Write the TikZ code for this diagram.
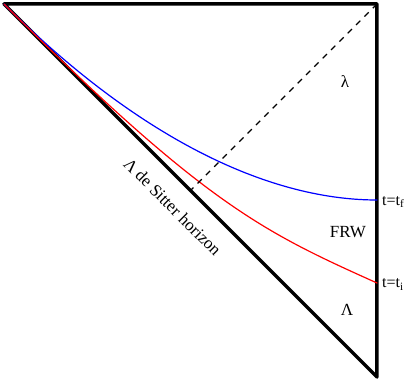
\documentclass[tikz,border=0pt]{standalone}
\usepackage{fontspec}
\setmainfont{Liberation Serif}
\tikzset{
  region/.style={font=\fontsize{17}{20}\selectfont,inner sep=0pt},
  slice/.style={font=\fontsize{16}{19}\selectfont,inner sep=0pt,anchor=base west,xshift=5pt,yshift=-5pt},
  bound/.style={line width=3.5pt},
  surface/.style={line width=1.2pt}
}
\begin{document}
\begin{tikzpicture}[x=37.3pt,y=37.3pt,line cap=round,line join=round]
\useasboundingbox (-0.107,-0.107) rectangle (10.724,10.107);
\coordinate (A) at (0,10);
\coordinate (B) at (10,10);
\coordinate (C) at (10,0);
\coordinate (M) at (5,5);
\coordinate (tf) at (10,4.745);
\coordinate (ti) at (10,2.52);
\draw[bound] (A) -- (B) -- (C) -- cycle;
% constant time slices
\draw[blue,surface] (A) .. controls (3.5,6.5) and (7,4.745) .. (tf);
\draw[red,surface] (A) .. controls (5.4,4.6) and (7,3.87) .. (ti);
\draw[surface,line cap=butt,dash pattern=on 6pt off 5.8pt] (B) -- (M);
\node[region] (lam) at (9.14,7.91) {λ};
\node[region] (frw) at (9.22,3.89) {FRW};
\node[region] (Lam) at (9.196,1.80) {Λ};
\node[slice] (tflabel) at (tf) {t=t\textsubscript{f}};
\node[slice] (tilabel) at (ti) {t=t\textsubscript{i}};
\node[region,rotate=-45] (horizon) at (4.52,4.56) {Λ de Sitter horizon};
\end{tikzpicture}
\end{document}
